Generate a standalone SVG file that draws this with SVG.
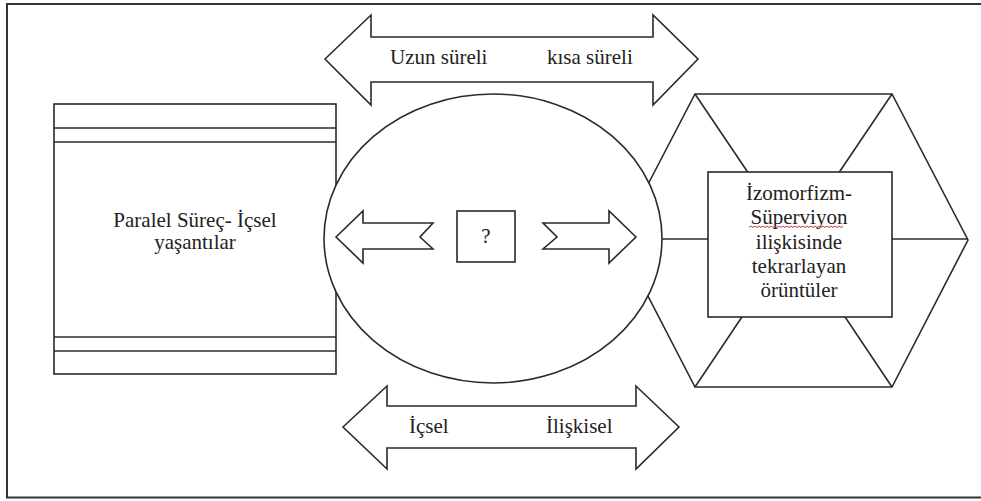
<svg xmlns="http://www.w3.org/2000/svg" width="981" height="501" viewBox="0 0 981 501">
<style>
.s{fill:#fff;stroke:#2a2a2a;stroke-width:1.6;stroke-linejoin:miter}
.l{fill:none;stroke:#2a2a2a;stroke-width:1.6}
.t{font-family:'Liberation Serif','Times New Roman',Times,'DejaVu Serif',serif;font-size:21px;fill:#222}
.c{text-anchor:middle}
</style>
<rect x="0" y="0" width="981" height="501" fill="#fff"/>
<rect id="frame" x="7" y="4" width="985" height="493.5" fill="none" stroke="#333" stroke-width="2"/>
<g id="left-box">
<rect class="s" x="54" y="104" width="282" height="270"/>
<line class="l" x1="54" y1="128" x2="336" y2="128"/>
<line class="l" x1="54" y1="142" x2="336" y2="142"/>
<line class="l" x1="54" y1="337" x2="336" y2="337"/>
<line class="l" x1="54" y1="351" x2="336" y2="351"/>
<text class="t c" x="195" y="227" font-family="Liberation Serif, serif">Paralel Süreç- İçsel</text>
<text class="t c" x="195" y="249" font-family="Liberation Serif, serif">yaşantılar</text>
</g>
<g id="hexagon">
<polygon class="s" points="619,240 695,94 892,94 968,240 892,387 695,387"/>
</g>
<g id="connectors">
<line class="l" x1="695" y1="94" x2="793.5" y2="240"/>
<line class="l" x1="892" y1="94" x2="793.5" y2="240"/>
<line class="l" x1="695" y1="387" x2="793.5" y2="240"/>
<line class="l" x1="892" y1="387" x2="793.5" y2="240"/>
<line class="l" x1="619" y1="239" x2="793.5" y2="239"/>
<line class="l" x1="793.5" y1="239" x2="968" y2="239"/>
</g>
<g id="ellipse">
<ellipse class="s" cx="493" cy="238.5" rx="169" ry="144.5"/>
</g>
<g id="left-arrow">
<polygon class="s" points="336,237 363,211 363,223 433,223 420,237 433,249 363,249 363,263"/>
</g>
<g id="right-arrow">
<polygon class="s" points="636,237 609,211 609,223 543,223 557,237 543,249 609,249 609,263"/>
</g>
<g id="question-box">
<rect class="s" x="457" y="211" width="58" height="51"/>
<text class="t c" x="486" y="243">?</text>
</g>
<g id="top-arrow">
<polygon class="s" points="325,59 371,15 371,37 653,37 653,15 698,59 653,105 653,82 371,82 371,105"/>
<text class="t" x="390" y="64">Uzun süreli</text>
<text class="t" x="547" y="64">kısa süreli</text>
</g>
<g id="bottom-arrow">
<polygon class="s" points="343,427 387,386 387,406 636,406 636,386 679,427 636,469 636,448 387,448 387,469"/>
<text class="t" x="409" y="433">İçsel</text>
<text class="t" x="546" y="433">İlişkisel</text>
</g>
<g id="center-box">
<rect class="s" x="708" y="172" width="184" height="145"/>
<text class="t c" x="799" y="200">İzomorfizm-</text>
<text class="t c" x="799" y="224">Süperviyon</text>
<path d="M749,227.5 l2,-1.5 l2,1.5 l2,-1.5 l2,1.5 l2,-1.5 l2,1.5 l2,-1.5 l2,1.5 l2,-1.5 l2,1.5 l2,-1.5 l2,1.5 l2,-1.5 l2,1.5 l2,-1.5 l2,1.5 l2,-1.5 l2,1.5 l2,-1.5 l2,1.5 l2,-1.5 l2,1.5 l2,-1.5 l2,1.5 l2,-1.5 l2,1.5 l2,-1.5 l2,1.5 l2,-1.5 l2,1.5 l2,-1.5 l2,1.5 l2,-1.5 l2,1.5 l2,-1.5 l2,1.5 l2,-1.5 l2,1.5 l2,-1.5 l2,1.5 l2,-1.5 l2,1.5 l2,-1.5 l2,1.5 l2,-1.5 l2,1.5 l2,-1.5" fill="none" stroke="#d23b3b" stroke-width="1"/>
<text class="t c" x="799" y="249">ilişkisinde</text>
<text class="t c" x="799" y="273">tekrarlayan</text>
<text class="t c" x="799" y="297">örüntüler</text>
</g>
</svg>
